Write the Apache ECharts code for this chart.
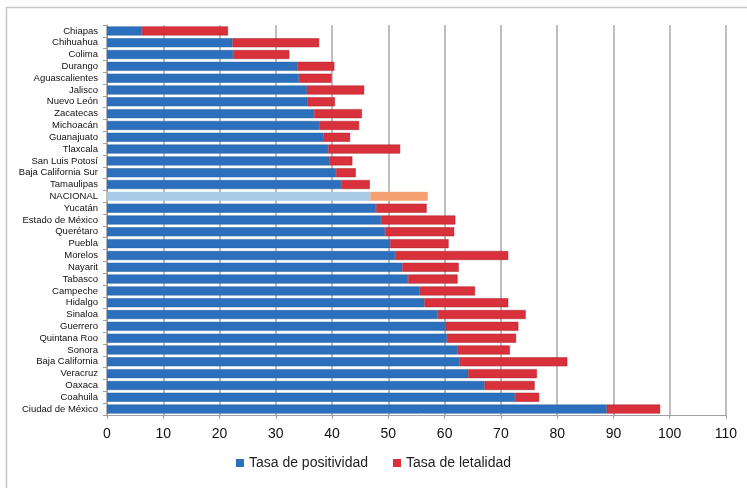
<!DOCTYPE html>
<html>
<head>
<meta charset="utf-8">
<script src="https://cdn.jsdelivr.net/npm/echarts@6/dist/echarts.min.js"></script>
<style>
  html, body { margin: 0; padding: 0; background: #ffffff; }
  #chart { width: 747px; height: 488px; }
</style>
</head>
<body>
<div id="chart"></div>
<script>
// Estados, de arriba hacia abajo
const estados = [
  'Chiapas', 'Chihuahua', 'Colima', 'Durango', 'Aguascalientes', 'Jalisco',
  'Nuevo León', 'Zacatecas', 'Michoacán', 'Guanajuato', 'Tlaxcala',
  'San Luis Potosí', 'Baja California Sur', 'Tamaulipas', 'NACIONAL', 'Yucatán',
  'Estado de México', 'Querétaro', 'Puebla', 'Morelos', 'Nayarit', 'Tabasco',
  'Campeche', 'Hidalgo', 'Sinaloa', 'Guerrero', 'Quintana Roo', 'Sonora',
  'Baja California', 'Veracruz', 'Oaxaca', 'Coahuila', 'Ciudad de México'
];

// Tasa de positividad (%)
const positividad = [
  6.2, 22.3, 22.4, 33.8, 34.1, 35.5,
  35.6, 36.8, 37.7, 38.5, 39.3,
  39.5, 40.7, 41.6, 46.8, 47.8,
  48.7, 49.4, 50.3, 51.2, 52.5, 53.5,
  55.6, 56.4, 58.8, 60.2, 60.4, 62.3,
  62.7, 64.2, 67.1, 72.5, 88.8
];

// Tasa de letalidad (%), apilada sobre la positividad
const letalidad = [
  15.3, 15.4, 10.0, 6.6, 5.8, 10.2,
  4.9, 8.5, 7.1, 4.7, 12.8,
  4.1, 3.5, 5.1, 10.2, 9.0,
  13.2, 12.3, 10.4, 20.1, 10.0, 8.8,
  9.8, 14.9, 15.6, 12.9, 12.3, 9.3,
  19.1, 12.2, 8.9, 4.3, 9.5
];

const xTicks = { min: 0, max: 110, step: 10 };

const AZUL = '#2c6fbd';
const ROJO = '#d8313b';
const AZUL_NAC = '#a9cbe7';
const NARANJA_NAC = '#f4a070';
const FONT = '"Liberation Sans Narrow", "Liberation Sans", "DejaVu Sans Condensed", sans-serif';

function conResaltado(valores, colorNacional) {
  return valores.map((v, i) => estados[i] === 'NACIONAL'
    ? { value: v, itemStyle: { color: colorNacional, borderColor: colorNacional } }
    : v);
}

const chart = echarts.init(document.getElementById('chart'), null, { renderer: 'canvas' });

chart.setOption({
  animation: false,
  backgroundColor: '#ffffff',
  graphic: [
    { type: 'line', shape: { x1: 6, y1: 7.5, x2: 747, y2: 7.5 }, style: { stroke: '#c8c8c8', lineWidth: 1.5 } },
    { type: 'line', shape: { x1: 6.5, y1: 7, x2: 6.5, y2: 488 }, style: { stroke: '#c8c8c8', lineWidth: 1.5 } }
  ],
  grid: { left: 107, right: 21, top: 25, bottom: 73, containLabel: false },
  legend: {
    bottom: 13,
    left: 'center',
    itemWidth: 8,
    itemHeight: 8,
    itemGap: 25,
    icon: 'rect',
    itemStyle: { borderWidth: 0 },
    textStyle: { fontFamily: FONT, fontSize: 14, color: '#222' },
    data: ['Tasa de positividad', 'Tasa de letalidad']
  },
  xAxis: {
    type: 'value',
    min: xTicks.min,
    max: xTicks.max,
    interval: xTicks.step,
    axisLine: { show: true, lineStyle: { color: '#a0a0a0' } },
    axisTick: { show: true, length: 4, lineStyle: { color: '#a0a0a0' } },
    axisLabel: { margin: 12, fontFamily: FONT, fontSize: 14, color: '#111' },
    splitLine: { show: true, lineStyle: { color: '#a8a8a8', width: 1.5 } }
  },
  yAxis: {
    type: 'category',
    inverse: true,
    data: estados,
    axisLine: { show: true, lineStyle: { color: '#a0a0a0' } },
    axisTick: { show: true, length: 4, interval: 0, lineStyle: { color: '#a0a0a0' } },
    axisLabel: { interval: 0, margin: 9, fontFamily: FONT, fontSize: 9.5, color: '#111' }
  },
  series: [
    {
      name: 'Tasa de positividad',
      type: 'bar',
      stack: 'tasa',
      barWidth: 9,
      itemStyle: { color: AZUL, borderColor: '#24609f', borderWidth: 0.5 },
      data: conResaltado(positividad, AZUL_NAC)
    },
    {
      name: 'Tasa de letalidad',
      type: 'bar',
      stack: 'tasa',
      barWidth: 9,
      itemStyle: { color: ROJO, borderColor: '#a8222b', borderWidth: 0.5 },
      data: conResaltado(letalidad, NARANJA_NAC)
    }
  ]
});
</script>
</body>
</html>
